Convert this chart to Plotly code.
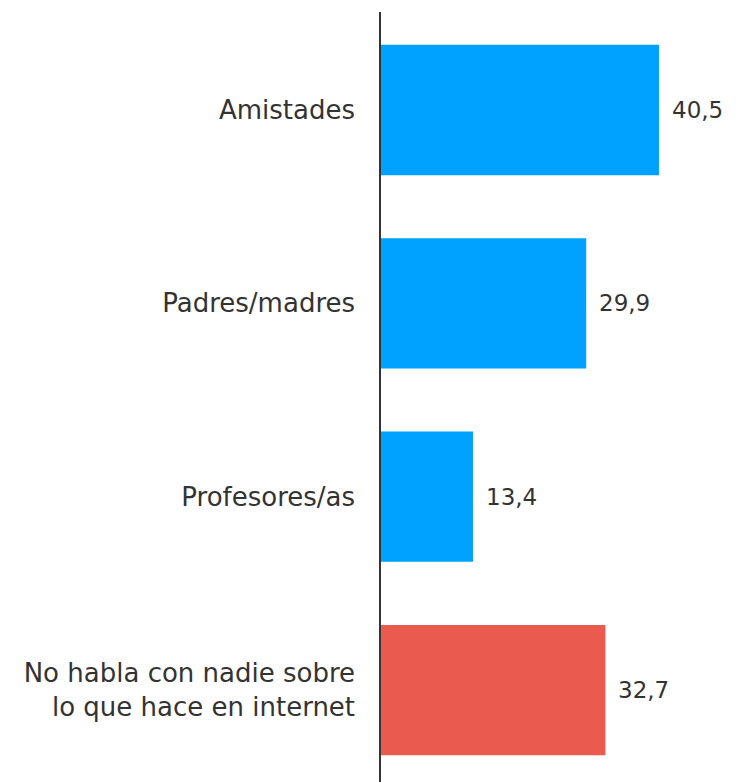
import plotly.graph_objects as go

categories = ["Amistades", "Padres/madres", "Profesores/as",
              "No habla con nadie sobre<br>lo que hace en internet"]
values = [40.5, 29.9, 13.4, 32.7]
value_labels = ["40,5", "29,9", "13,4", "32,7"]
colors = ["#00A2FF", "#00A2FF", "#00A2FF", "#EB5A4E"]

fig = go.Figure(go.Bar(
    x=values, y=categories, orientation="h",
    marker=dict(color=colors, line=dict(width=0)),
    hoverinfo="skip",
))

for v, c, t in zip(values, categories, value_labels):
    fig.add_annotation(x=v, y=c, text=t, showarrow=False, xanchor="left",
                       xshift=11, font=dict(family="DejaVu Sans", size=23, color="#333333"))

fig.update_layout(
    width=738, height=782,
    margin=dict(l=373, r=0, t=4, b=0),
    paper_bgcolor="white", plot_bgcolor="white",
    bargap=0.326,
    showlegend=False,
    font=dict(family="DejaVu Sans", size=23, color="#333333"),
)
fig.update_xaxes(range=[0, 53.18], visible=False)
fig.update_yaxes(
    range=[3.517, -0.507],
    showline=True, linecolor="#333333", linewidth=1.5,
    showgrid=False, zeroline=False, ticks="",
    ticklabelstandoff=19,
    tickfont=dict(family="DejaVu Sans", size=26, color="#333333"),
)

fig.write_html("out.html")
